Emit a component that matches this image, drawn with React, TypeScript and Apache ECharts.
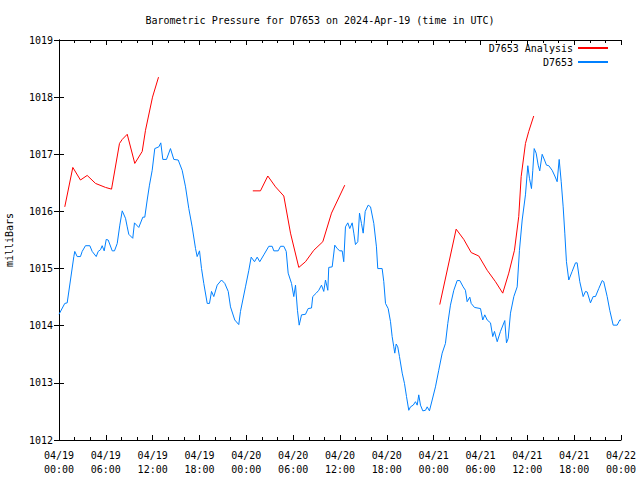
import React, { useEffect, useRef } from "react";
import * as echarts from "echarts";

const titleText = "Barometric Pressure for D7653 on 2024-Apr-19 (time in UTC)";
const yAxisName = "milliBars";
const tickLabels = [
  "04/19\n00:00", "04/19\n06:00", "04/19\n12:00", "04/19\n18:00",
  "04/20\n00:00", "04/20\n06:00", "04/20\n12:00", "04/20\n18:00",
  "04/21\n00:00", "04/21\n06:00", "04/21\n12:00", "04/21\n18:00",
  "04/22\n00:00",
];

// hours since 2024-04-19 00:00 UTC
const obsHours = [
  0, 0.74, 1.05, 1.47, 1.9, 2.02, 2.33, 2.75, 2.97, 3.39, 3.95, 4.25, 4.77, 5.02, 5.32, 5.53, 5.79, 6.05, 6.3, 6.82,
  7.11, 7.46, 7.79, 8.1, 8.52, 8.74, 8.94, 9.45, 9.67, 10.22, 10.74, 10.99, 11.3, 11.59, 11.94, 12.27, 12.79, 13.04, 13.3, 13.77,
  14.28, 14.71, 15.27, 15.78, 16.21, 16.63, 17.06, 17.49, 17.7, 18.0, 18.26, 18.55, 18.99, 19.28, 19.54, 19.83, 20.27, 20.82, 21.24, 21.68,
  21.97, 22.52, 23.03, 23.25, 23.89, 24.32, 24.62, 25.05, 25.39, 25.72, 26.24, 26.88, 27.31, 27.52, 28.08, 28.38, 28.8, 29.11, 29.36, 29.79,
  30.08, 30.3, 30.55, 30.77, 31.07, 31.58, 31.92, 32.35, 32.51, 32.95, 33.28, 33.63, 33.92, 34.14, 34.44, 34.56, 35.0, 35.33, 35.64, 35.97,
  36.28, 36.48, 36.7, 37.0, 37.25, 37.56, 37.77, 37.98, 38.28, 38.5, 38.75, 38.97, 39.23, 39.61, 39.91, 40.33, 40.67, 40.84, 41.4, 41.61,
  41.83, 42.17, 42.47, 42.68, 42.89, 43.02, 43.2, 43.4, 43.62, 43.97, 44.26, 44.52, 44.81, 45.03, 45.38, 45.67, 45.89, 46.09, 46.31, 46.61,
  46.95, 47.17, 47.46, 47.81, 48.23, 48.65, 49.09, 49.51, 49.81, 50.15, 50.58, 51.01, 51.35, 51.78, 52.07, 52.29, 52.63, 52.81, 53.23, 54.0,
  54.29, 54.55, 54.86, 55.28, 55.57, 55.79, 56.14, 56.56, 57.11, 57.33, 57.55, 57.84, 58.27, 58.7, 58.99, 59.34, 59.76, 60.06, 60.27, 60.53,
  60.7, 60.88, 61.13, 61.39, 61.59, 61.9, 62.2, 62.45, 62.75, 63.18, 63.52, 63.82, 64.08, 64.34, 64.59, 64.8, 65.01, 65.31, 65.74, 66.17,
  66.38, 66.72, 67.15, 67.45, 67.67, 68.09, 68.43, 68.73, 69.15, 69.59, 69.79, 70.23, 70.56, 71.0, 71.51, 71.84, 72,
];
const obsValues = [
  1014.2, 1014.39, 1014.4, 1014.8, 1015.21, 1015.3, 1015.21, 1015.21, 1015.3, 1015.4, 1015.4, 1015.3, 1015.21, 1015.3, 1015.33, 1015.4, 1015.31, 1015.51, 1015.5, 1015.31,
  1015.31, 1015.44, 1015.76, 1016.01, 1015.88, 1015.73, 1015.6, 1015.53, 1015.8, 1015.72, 1015.9, 1015.9, 1016.2, 1016.46, 1016.72, 1017.1, 1017.13, 1017.2, 1016.91, 1016.91,
  1017.1, 1016.91, 1016.9, 1016.72, 1016.43, 1016.05, 1015.73, 1015.35, 1015.21, 1015.31, 1015.0, 1014.74, 1014.39, 1014.39, 1014.6, 1014.51, 1014.71, 1014.8, 1014.74, 1014.6,
  1014.33, 1014.1, 1014.02, 1014.25, 1014.68, 1014.97, 1015.2, 1015.12, 1015.2, 1015.12, 1015.24, 1015.39, 1015.39, 1015.31, 1015.31, 1015.39, 1015.39, 1015.3, 1014.92, 1014.74,
  1014.51, 1014.71, 1014.27, 1014.01, 1014.19, 1014.2, 1014.3, 1014.31, 1014.51, 1014.57, 1014.62, 1014.71, 1014.6, 1014.8, 1014.62, 1015.02, 1015.03, 1015.41, 1015.35, 1015.31,
  1015.31, 1015.12, 1015.73, 1015.8, 1015.7, 1015.8, 1015.62, 1015.42, 1015.47, 1015.97, 1015.79, 1015.62, 1016.0, 1016.11, 1016.08, 1015.79, 1015.38, 1015.0, 1015.0, 1014.77,
  1014.39, 1014.3, 1014.07, 1013.81, 1013.63, 1013.52, 1013.68, 1013.63, 1013.46, 1013.17, 1012.99, 1012.76, 1012.52, 1012.58, 1012.61, 1012.67, 1012.61, 1012.79, 1012.61, 1012.51,
  1012.52, 1012.58, 1012.51, 1012.7, 1012.93, 1013.22, 1013.52, 1013.69, 1014.04, 1014.36, 1014.62, 1014.79, 1014.79, 1014.68, 1014.62, 1014.42, 1014.5, 1014.39, 1014.32, 1014.3,
  1014.1, 1014.19, 1014.1, 1014.05, 1013.81, 1013.9, 1013.72, 1013.9, 1014.09, 1013.7, 1013.78, 1014.22, 1014.51, 1014.68, 1015.32, 1015.85, 1016.29, 1016.8, 1016.58, 1016.4,
  1016.72, 1017.1, 1017.02, 1016.81, 1016.71, 1017.0, 1016.9, 1016.81, 1016.8, 1016.72, 1016.62, 1016.52, 1016.91, 1016.52, 1016.08, 1015.62, 1015.12, 1014.8, 1014.95, 1015.1,
  1015.1, 1014.77, 1014.51, 1014.6, 1014.59, 1014.4, 1014.51, 1014.51, 1014.65, 1014.79, 1014.77, 1014.51, 1014.27, 1014.01, 1014.01, 1014.1, 1014.1,
];

const anaHours1 = [0.74, 1.77, 2.75, 3.61, 4.68, 5.96, 6.73, 7.75, 8.1, 8.74, 9.71, 10.66, 11.08, 11.98, 12.75];
const anaValues1 = [1016.08, 1016.77, 1016.55, 1016.63, 1016.49, 1016.42, 1016.39, 1017.19, 1017.26, 1017.35, 1016.84, 1017.05, 1017.42, 1018.0, 1018.35];
const anaHours2 = [24.83, 25.81, 26.75, 27.74, 28.8, 29.66, 30.72, 31.58, 32.64, 33.8, 34.91, 36.61];
const anaValues2 = [1016.36, 1016.36, 1016.62, 1016.43, 1016.27, 1015.62, 1015.02, 1015.12, 1015.32, 1015.47, 1015.97, 1016.46];
const anaHours3 = [48.78, 50.88, 51.86, 52.81, 53.78, 54.86, 55.92, 56.85, 57.62, 58.35, 58.9, 59.21, 59.76, 60.18, 60.82];
const anaValues3 = [1014.37, 1015.69, 1015.51, 1015.28, 1015.22, 1014.97, 1014.77, 1014.57, 1014.92, 1015.32, 1015.91, 1016.61, 1017.19, 1017.4, 1017.67];

const ANA = "D7653 Analysis";
const OBS = "D7653";

const zip = (xs: number[], ys: number[]) => xs.map((x, i) => [x, ys[i]]);

export default function App() {
  const ref = useRef<HTMLDivElement>(null);
  useEffect(() => {
    if (!ref.current) return;
    const chart = echarts.init(ref.current, null, { renderer: "svg" });
    const font = "DejaVu Sans Mono";
    const tickCommon = { inside: true, length: 5, lineStyle: { color: "#000", width: 1 } };
    const minorCommon = { show: true, splitNumber: 3, length: 3, lineStyle: { color: "#000", width: 1 } };
    const axisLine = { show: true, lineStyle: { color: "#000", width: 1 } };
    const redSeries = (d: number[][]) => ({
      name: ANA,
      type: "line",
      data: d,
      showSymbol: false,
      symbol: "none",
      lineStyle: { color: "#ff0000", width: 1 },
      itemStyle: { color: "#ff0000" },
      xAxisIndex: 0,
      yAxisIndex: 0,
    });
    chart.setOption({
      animation: false,
      backgroundColor: "#fff",
      textStyle: { fontFamily: font },
      title: {
        text: titleText,
        left: "center",
        top: 10,
        textStyle: { fontFamily: font, fontSize: 10, fontWeight: "normal", color: "#000" },
      },
      legend: {
        data: [ANA, OBS],
        orient: "vertical",
        right: 27,
        top: 38,
        align: "right",
        itemWidth: 30,
        itemHeight: 2,
        itemGap: 4,
        icon: "rect",
        textStyle: { fontFamily: font, fontSize: 10, color: "#000", padding: [0, 0, 0, 0] },
      },
      grid: { left: 59, right: 19, top: 40, bottom: 40, containLabel: false, outerBoundsMode: "none" },
      xAxis: [
        {
          type: "value",
          min: 0,
          max: 72,
          interval: 6,
          axisLine,
          axisTick: tickCommon,
          minorTick: minorCommon,
          splitLine: { show: false },
          axisLabel: {
            margin: 8,
            fontFamily: font,
            fontSize: 10,
            color: "#000",
            lineHeight: 14,
            formatter: (v: number) => tickLabels[Math.round(v / 6)] ?? "",
          },
        },
        {
          type: "value",
          position: "top",
          min: 0,
          max: 72,
          interval: 6,
          axisLine,
          axisTick: tickCommon,
          minorTick: minorCommon,
          splitLine: { show: false },
          axisLabel: { show: false },
        },
      ],
      yAxis: [
        {
          type: "value",
          min: 1012,
          max: 1019,
          interval: 1,
          name: yAxisName,
          nameLocation: "middle",
          nameGap: 45,
          nameRotate: 90,
          nameTextStyle: { fontFamily: font, fontSize: 10, color: "#000" },
          axisLine,
          axisTick: tickCommon,
          splitLine: { show: false },
          axisLabel: {
            margin: 6,
            fontFamily: font,
            fontSize: 10,
            color: "#000",
            formatter: (v: number) => String(v),
          },
        },
        {
          type: "value",
          position: "right",
          min: 1012,
          max: 1019,
          interval: 1,
          axisLine,
          axisTick: tickCommon,
          splitLine: { show: false },
          axisLabel: { show: false },
        },
      ],
      series: [
        redSeries(zip(anaHours1, anaValues1)),
        redSeries(zip(anaHours2, anaValues2)),
        redSeries(zip(anaHours3, anaValues3)),
        {
          name: OBS,
          type: "line",
          data: zip(obsHours, obsValues),
          showSymbol: false,
          symbol: "none",
          lineStyle: { color: "#0080ff", width: 1 },
          itemStyle: { color: "#0080ff" },
          xAxisIndex: 0,
          yAxisIndex: 0,
        },
      ],
    });
    return () => chart.dispose();
  }, []);
  return <div ref={ref} style={{ width: 640, height: 480, position: "absolute", left: 0, top: 0 }} />;
}
